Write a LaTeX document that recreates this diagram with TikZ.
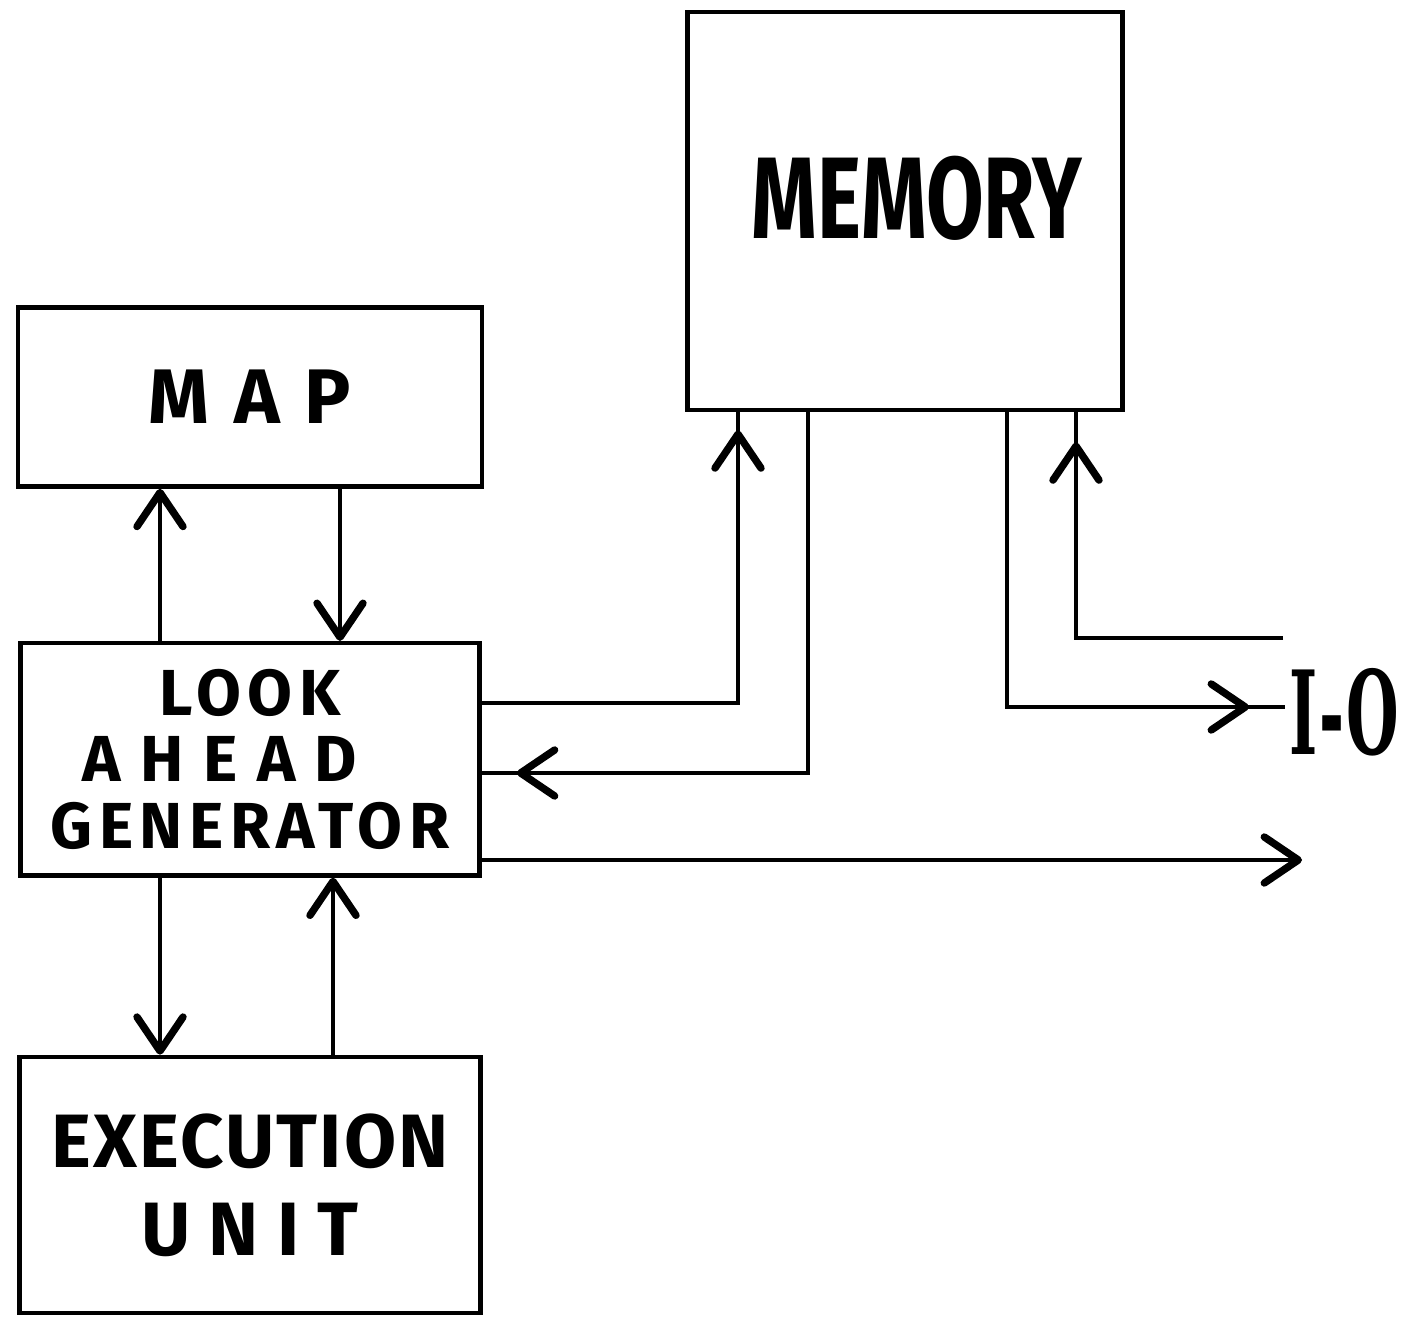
\documentclass[tikz,border=0pt]{standalone}
\usepackage{fontspec}
\setmainfont{Fira Sans}
\newfontfamily\narrowfont{Fira Sans}[FakeStretch=0.72]
\newfontfamily\iofont{DejaVu Serif}[FakeStretch=0.52]
\usetikzlibrary{positioning,arrows.meta,decorations.markings}
\tikzset{>={Straight Barb[length=3.4mm,width=4.6mm,line width=1pt 1,round]}}
\tikzset{
	block/.style={draw,line width=1.3pt,inner sep=0pt,align=center},
	link/.style={line width=1.1pt},
	tipat/.style={postaction={decorate},decoration={markings,mark=at position #1 with {\arrow{>}}}}
}

\begin{document}
\begin{tikzpicture}[x=0.01cm,y=-0.01cm]
	\useasboundingbox (0,0) rectangle (1403,1319);

	\node(mem) [block,minimum width=4.35cm,minimum height=3.98cm,
		label={[font=\narrowfont\bfseries\fontsize{33}{38}\selectfont,xshift=0.12cm,yshift=0.13cm]center:MEMORY}]
		at (905,211) {};
	\node(map) [block,minimum width=4.64cm,minimum height=1.79cm,
		font=\bfseries\fontsize{22}{26}\selectfont\addfontfeatures{LetterSpace=32}] at (250,397) {MAP};
	\node(lag) [block,minimum width=4.59cm,minimum height=2.32cm,below=1.52cm of map,
		font=\bfseries\fontsize{18.5}{19}\selectfont\addfontfeatures{LetterSpace=10}]
		{LOOK\\{\addfontfeatures{LetterSpace=30}AHEAD}\kern0.6cm\\GENERATOR};
	\node(eu)  [block,minimum width=4.61cm,minimum height=2.56cm,below=1.77cm of lag,
		font=\bfseries\fontsize{21.5}{25}\selectfont\addfontfeatures{LetterSpace=3}]
		{EXECUTION\\{\addfontfeatures{LetterSpace=24}UNIT}};
	\node(io)  [font=\iofont\bfseries\fontsize{33}{36}\selectfont,inner sep=1pt,anchor=west] at (1285,712)
		{I\kern0.5pt-\kern0.5pt O};

	% columns and rows of the wiring
	\coordinate (xa) at (160,0);
	\coordinate (xb) at (340,0);
	\coordinate (xc) at (333,0);
	\coordinate (xd) at (738,0);
	\coordinate (xe) at (808,0);
	\coordinate (xf) at (1007,0);
	\coordinate (xg) at (1076,0);
	\coordinate (ya) at (0,703);
	\coordinate (yb) at (0,773);
	\coordinate (yc) at (0,707);
	\coordinate (yd) at (0,860);
	\coordinate (ioin) at (1283,638);
	\coordinate (out) at (1302,860);

	% map and execution unit
	\draw[link,->] (lag.north -| xa) -- (map.south -| xa);
	\draw[link,->] (map.south -| xb) -- (lag.north -| xb);
	\draw[link,->] (lag.south -| xa) -- (eu.north -| xa);
	\draw[link,->] (eu.north -| xc) -- (lag.south -| xc);

	% memory
	\draw[link,tipat=-0.18cm] (lag.east |- ya) -| (mem.south -| xd);
	\draw[link,tipat=-0.35cm] (mem.south -| xe) |- (lag.east |- yb);

	% input-output
	\draw[link,tipat=-0.36cm] (mem.south -| xf) |- (io.west |- yc);
	\draw[link,tipat=-0.30cm] (ioin) -| (mem.south -| xg);
	\draw[link,->] (lag.east |- yd) -- (out);

\end{tikzpicture}
\end{document}
